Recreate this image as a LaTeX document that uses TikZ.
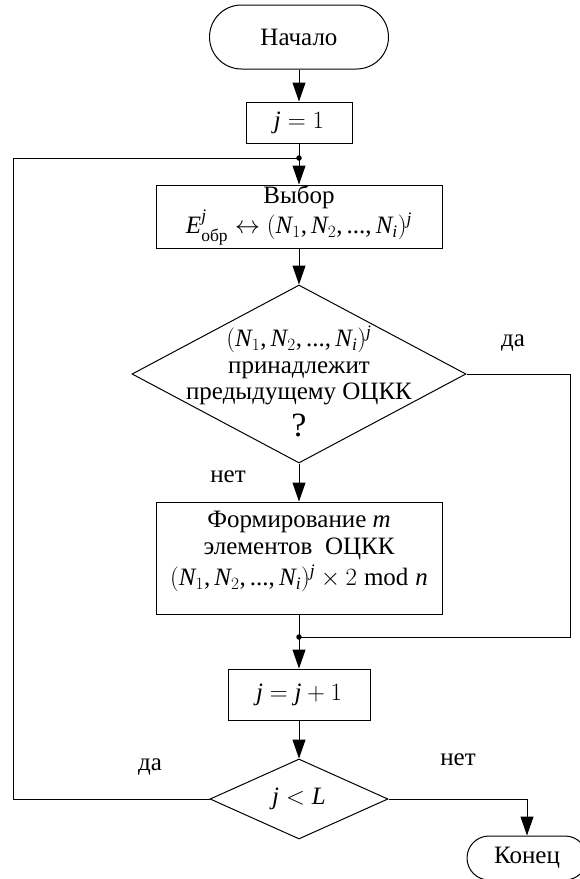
\documentclass[tikz,border=0pt]{standalone}
\usepackage{amsmath}
\usepackage{fontspec}
\setmainfont{Liberation Serif}
\newfontfamily\tfam{Liberation Serif}[NFSSFamily=tfam]
\DeclareSymbolFont{tletters}{TU}{tfam}{m}{it}
\DeclareSymbolFont{tupright}{TU}{tfam}{m}{n}
\DeclareMathSymbol{j}{\mathalpha}{tletters}{`j}
\DeclareMathSymbol{E}{\mathalpha}{tletters}{`E}
\DeclareMathSymbol{N}{\mathalpha}{tletters}{`N}
\DeclareMathSymbol{i}{\mathalpha}{tletters}{`i}
\DeclareMathSymbol{m}{\mathalpha}{tletters}{`m}
\DeclareMathSymbol{n}{\mathalpha}{tletters}{`n}
\DeclareMathSymbol{L}{\mathalpha}{tletters}{`L}
\DeclareMathSymbol{1}{\mathord}{tupright}{`1}
\DeclareMathSymbol{2}{\mathord}{tupright}{`2}
\DeclareMathSymbol{(}{\mathopen}{tupright}{`(}
\DeclareMathSymbol{)}{\mathclose}{tupright}{`)}
\DeclareMathSymbol{,}{\mathpunct}{tupright}{`,}
\DeclareMathSymbol{.}{\mathord}{tupright}{`.}
\usetikzlibrary{arrows.meta,shapes.geometric}
\begin{document}
\begin{tikzpicture}[x=1pt,y=-1pt,
  every node/.style={font=\fontsize{25}{29}\selectfont},
  ln/.style={line width=1pt, draw=black},
  arr/.style={ln, -{Triangle[length=19pt,width=13pt]}},
  boxs/.style={draw, line width=1pt, rectangle, inner sep=0pt},
  dia/.style={draw, line width=1pt, diamond, inner sep=0pt},
  txt/.style={inner sep=0pt, text height=15pt, text depth=4pt},
  dot/.style={circle, fill=black, inner sep=0pt, minimum size=5.5pt},
  lbl/.style={inner sep=0pt}
]
\useasboundingbox (0,0) rectangle (580,879);
\clip (0,0) rectangle (580,879);

\node[boxs, rounded corners=32pt, minimum width=179pt, minimum height=64pt] (start) at (299,37) {Начало};
\node[boxs, minimum width=106pt, minimum height=41pt] (j1) at (299,122.5) {$j=1$};
\node[dot] (dot1) at (299,158) {};
\node[boxs, minimum width=286pt, minimum height=63pt] (sel) at (299,216.5) {};
\node[txt] (selt1) at (299,198) {Выбор};
\node[txt] (selt2) at (299,228) {$E^{j}_{\text{обр}} \leftrightarrow (N_1, N_2, ..., N_i)^{j}$};
\node[dia, minimum width=334pt, minimum height=178pt] (d1) at (299,374) {};
\node[txt] (d1a) at (299,341) {$(N_1, N_2, ..., N_i)^{j}$};
\node[txt] (d1b) at (299,368) {принадлежит};
\node[txt] (d1c) at (299,394) {предыдущему ОЦКК};
\node[inner sep=0pt, font=\fontsize{34}{40}\selectfont] (d1d) at (299,425) {?};
\node[boxs, minimum width=286pt, minimum height=112pt] (form) at (299,558) {};
\node[txt] (f1) at (299,522) {Формирование $m$};
\node[txt] (f2) at (299,549) {элементов~ ОЦКК};
\node[txt] (f3) at (299,580) {$(N_1, N_2, ..., N_i)^{j}\times 2 \bmod n$};
\node[dot] (dot2) at (299,637) {};
\node[boxs, minimum width=142pt, minimum height=51pt] (inc) at (299,694.5) {$j=j+1$};
\node[dia, minimum width=178pt, minimum height=80pt] (d2) at (299,799) {$j<L$};
\node[boxs, rounded corners=22pt, minimum width=120pt, minimum height=44pt] (fin) at (527,858) {Конец};

\node[lbl] (l1) at (513,343) {да};
\node[lbl] (l2) at (228,477) {нет};
\node[lbl] (l3) at (150,767) {да};
\node[lbl] (l4) at (458,760) {нет};

\coordinate (r1) at (570,374);
\coordinate (r2) at (570,637);
\coordinate (lb) at (13,799);
\coordinate (lt) at (13,158);
\coordinate (fr) at (527,799);

\draw[arr] (start) -- (j1);
\draw[ln] (j1) -- (dot1.center);
\draw[arr] (dot1.center) -- (sel);
\draw[arr] (sel) -- (d1);
\draw[arr] (d1.south) -- (form);
\draw[ln] (d1.east) -- (r1) -- (r2) -- (dot2.center);
\draw[ln] (form) -- (dot2.center);
\draw[arr] (dot2.center) -- (inc);
\draw[arr] (inc) -- (d2);
\draw[ln] (d2.west) -- (lb) -- (lt) -- (dot1.center);
\draw[arr] (d2.east) -- (fr) -- (fin);
\end{tikzpicture}
\end{document}
